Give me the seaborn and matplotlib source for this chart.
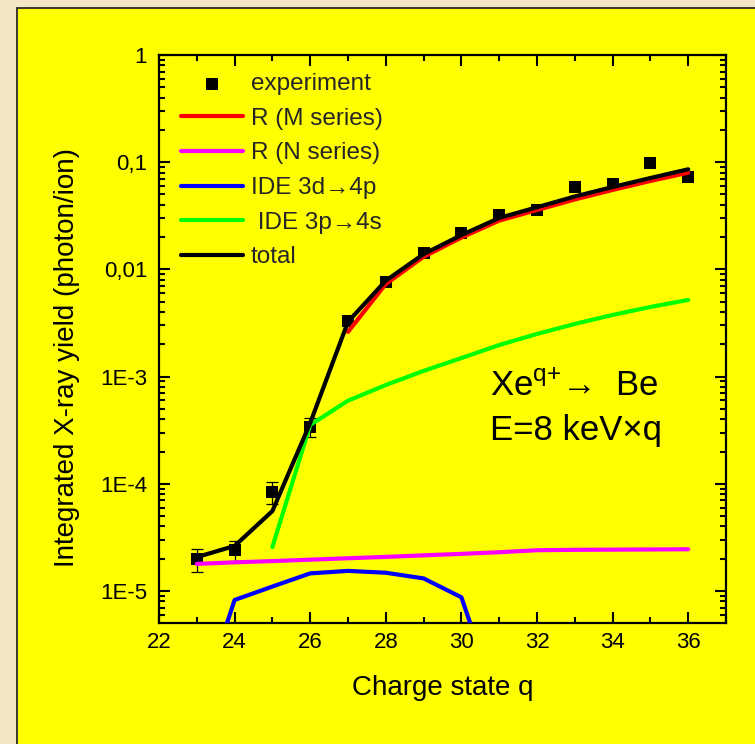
import numpy as np
import pandas as pd
import matplotlib
matplotlib.use("Agg")
import matplotlib.pyplot as plt
import seaborn as sns
from matplotlib.patches import Rectangle
from matplotlib.ticker import LogLocator, NullFormatter, MultipleLocator

# ---------------- data ----------------
q_exp = [23, 24, 25, 26, 27, 28, 29, 30, 31, 32, 33, 34, 35, 36]
y_exp = [1.99e-5, 2.41e-5, 8.44e-5, 3.41e-4, 3.30e-3, 7.63e-3, 0.0143,
         0.0220, 0.0320, 0.0358, 0.0583, 0.0626, 0.0989, 0.0732]
q_err = [23, 24, 25, 26]
y_err_val = [1.99e-5, 2.41e-5, 8.44e-5, 3.41e-4]
y_err = [5.0e-6, 5.0e-6, 2.0e-5, 7.0e-5]

q_M = [27, 28, 29, 30, 31, 32, 33, 34, 35, 36]
y_M = [2.61e-3, 7.31e-3, 0.0131, 0.0198, 0.0285, 0.0358, 0.0449, 0.0551, 0.0668, 0.0798]

q_N = [23, 24, 25, 26, 27, 28, 29, 30, 31, 32, 33, 34, 35, 36]
y_N = [1.79e-5, 1.85e-5, 1.90e-5, 1.96e-5, 2.02e-5, 2.08e-5, 2.15e-5,
       2.22e-5, 2.30e-5, 2.40e-5, 2.42e-5, 2.43e-5, 2.44e-5, 2.45e-5]

q_3d = [23, 24, 25, 26, 27, 28, 29, 30, 31]
y_3d = [7.0e-7, 8.24e-6, 1.10e-5, 1.46e-5, 1.54e-5, 1.48e-5, 1.31e-5, 8.73e-6, 8.0e-7]

q_3p = [25, 26, 27, 28, 29, 30, 31, 32, 33, 34, 35, 36]
y_3p = [2.57e-5, 3.54e-4, 5.96e-4, 8.35e-4, 1.13e-3, 1.49e-3, 1.97e-3,
        2.50e-3, 3.10e-3, 3.76e-3, 4.46e-3, 5.19e-3]

q_tot = [23, 24, 25, 26, 27, 28, 29, 30, 31, 32, 33, 34, 35, 36]
y_tot = [2.07e-5, 2.63e-5, 5.57e-5, 3.69e-4, 3.25e-3, 7.85e-3, 0.0139,
         0.0209, 0.0302, 0.0380, 0.0479, 0.0587, 0.0712, 0.0859]

labels = ["experiment", "R (M series)", "R (N series)", "IDE 3d\u21924p",
          " IDE 3p\u21924s", "total"]
colors = ["black", "#FF0000", "#FF00FF", "#0000FF", "#00FF00", "black"]

y_ticks = [1e-5, 1e-4, 1e-3, 1e-2, 1e-1, 1]
y_tick_labels = ["1E-5", "1E-4", "1E-3", "0,01", "0,1", "1"]
x_label = "Charge state q"
y_label = "Integrated X-ray yield (photon/ion)"
annot1 = "Xe$^{\\mathregular{q{+}}}$\u2192  Be"
annot2 = "E=8 keV\u00d7q"

# ---------------- style ----------------
sns.set_style("ticks")
plt.rcParams["font.family"] = ["Liberation Sans", "DejaVu Sans"]
plt.rcParams["mathtext.fontset"] = "custom"
plt.rcParams["mathtext.rm"] = "Liberation Sans"

W, H = 755, 744
fig = plt.figure(figsize=(W / 100, H / 100), dpi=100)
fig.patch.set_facecolor("#F2E7C2")

# yellow panel
panel = Rectangle((17 / W, -0.1), 1.2, 1.1 - 8 / H, transform=fig.transFigure,
                  facecolor="#FFFF00", edgecolor="#2a2a2a", linewidth=1.3, zorder=-10)
fig.patches.append(panel)

ax_l, ax_r, ax_t, ax_b = 159, 726, 55, 622.7
ax = fig.add_axes([ax_l / W, 1 - ax_b / H, (ax_r - ax_l) / W, (ax_b - ax_t) / H])
ax.set_facecolor("#FFFF00")
ax.set_zorder(1)

ax.set_yscale("log")

lw = 3.0
sns.scatterplot(x=q_exp, y=y_exp, marker="s", s=78, color="black",
                edgecolor="black", linewidth=0, ax=ax, zorder=2, label=labels[0])
ax.errorbar(q_err, y_err_val, yerr=y_err, fmt="none", ecolor="black",
            elinewidth=0.9, capsize=4.2, capthick=0.9, zorder=1.5)

series = [(q_M, y_M), (q_N, y_N), (q_3d, y_3d), (q_3p, y_3p), (q_tot, y_tot)]
for i, (qq, yy) in enumerate(series):
    df = pd.DataFrame({"q": qq, "y": yy})
    sns.lineplot(data=df, x="q", y="y", color=colors[i + 1], linewidth=lw,
                 estimator=None, sort=False, ax=ax, zorder=3 + i, label=labels[i + 1])

ax.set_xlim(22, 37)
ax.set_ylim(5.06e-6, 1)
ax.xaxis.set_major_locator(MultipleLocator(2))
ax.xaxis.set_minor_locator(MultipleLocator(1))
ax.set_yticks(y_ticks, y_tick_labels)
ax.yaxis.set_minor_locator(LogLocator(base=10, subs=np.arange(2, 10), numticks=20))
ax.yaxis.set_minor_formatter(NullFormatter())

for sp in ax.spines.values():
    sp.set_linewidth(1.6)
    sp.set_color("black")
    sp.set_visible(True)

ax.tick_params(which="both", direction="in", top=True, right=True,
               width=1.5, color="black", labelsize=16, labelcolor="black")
ax.tick_params(which="major", length=7.7)
ax.tick_params(which="minor", length=4.0)
ax.tick_params(axis="y", pad=8.5)
ax.tick_params(axis="x", pad=7)

ax.set_xlabel(x_label, fontsize=20, color="black")
ax.set_ylabel(y_label, fontsize=20, color="black")
ax.xaxis.set_label_coords(0.5, -0.092)
ax.yaxis.set_label_coords(-0.14, 0.468)

handles, labs = ax.get_legend_handles_labels()
hmap = dict(zip(labs, handles))
ax.legend([hmap[l] for l in labels], labels, loc="upper left",
          bbox_to_anchor=(0.038, 0.968), frameon=False, fontsize=17.5,
          handlelength=2.55, handletextpad=0.33, labelspacing=0.52,
          borderpad=0, borderaxespad=0)

ax.text(0.584, 0.401, annot1, transform=ax.transAxes, fontsize=25,
        va="baseline", ha="left", color="black")
ax.text(0.584, 0.322, annot2, transform=ax.transAxes, fontsize=25,
        va="baseline", ha="left", color="black")

fig.savefig("out.png", dpi=100, facecolor=fig.get_facecolor())
